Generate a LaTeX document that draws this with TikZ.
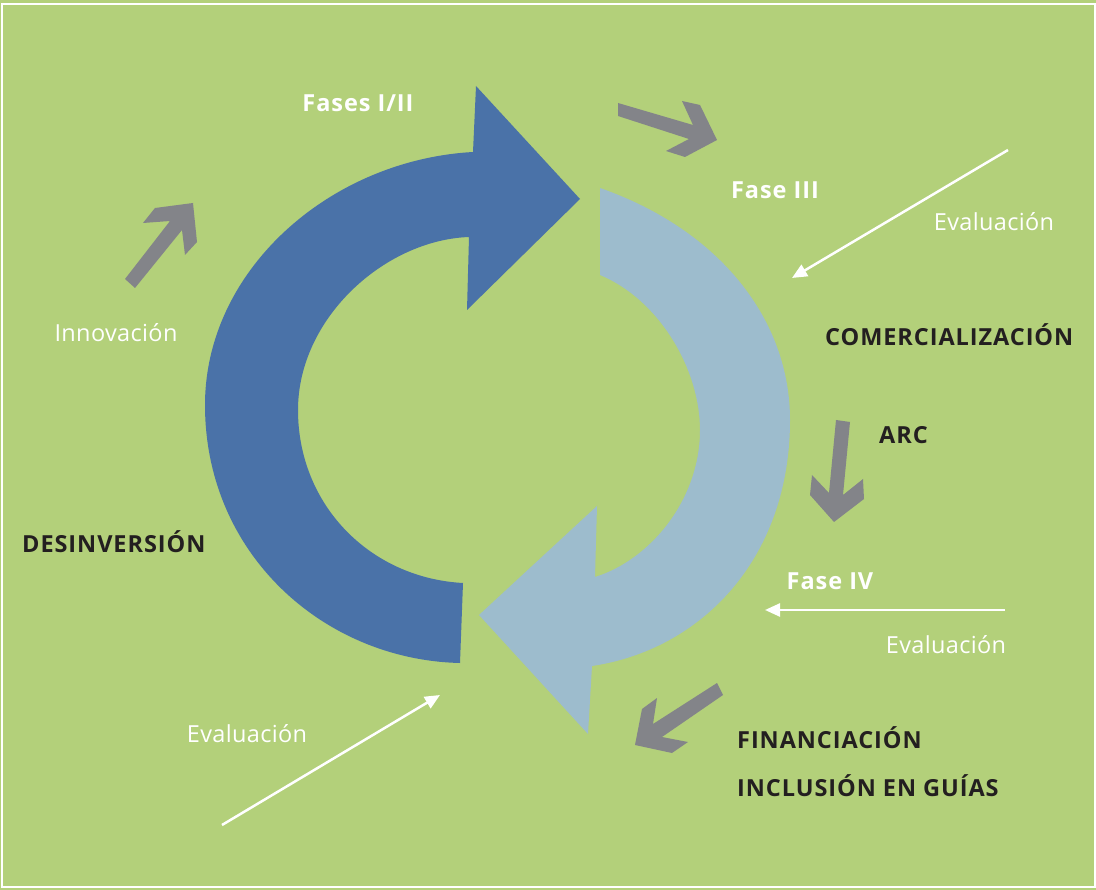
\documentclass[tikz,border=0pt]{standalone}
\usepackage{fontspec}
\setmainfont{Open Sans}
\usetikzlibrary{arrows.meta}
\definecolor{bggreen}{HTML}{B3D07A}
\definecolor{darkblue}{HTML}{4A72A8}
\definecolor{lightblue}{HTML}{9DBCCD}
\definecolor{arrowgray}{HTML}{838489}
\definecolor{darktext}{HTML}{231F20}
\newfontfamily\labelfont[LetterSpace=4]{Open Sans}
\newfontfamily\evalfont[LetterSpace=1.5]{Open Sans}
\tikzset{
  whitelabel/.style={text=white, inner sep=0pt, font=\labelfont\fontsize{23.5}{26}\selectfont\bfseries},
  evallabel/.style={text=white, inner sep=0pt, font=\evalfont\fontsize{23.5}{26}\selectfont},
  darklabel/.style={text=darktext, inner sep=0pt, anchor=west, font=\labelfont\fontsize{23.5}{26}\selectfont\bfseries},
  evalarrow/.style={draw=white, line width=2.5pt, -{Triangle[length=15pt,width=13pt]}},
  grayarrow/.style={fill=arrowgray, draw=none},
}
\begin{document}
\begin{tikzpicture}[x=1pt,y=-1pt]
\useasboundingbox (0,0) rectangle (1096,890);
\fill[bggreen] (0,0) rectangle (1096,890);
\draw[white, line width=2pt] (2,4.3) rectangle (1094.5,887);

% big dark blue arrow
\fill[darkblue] (460,663) .. controls (325,660) and (205,555) .. (205,405)
  .. controls (205,270) and (330,160) .. (473,152)
  -- (476,86) -- (580,199) -- (467,310) -- (469,237)
  .. controls (385,240) and (298,318) .. (298,410)
  .. controls (298,505) and (370,578) .. (463,583) -- cycle;

% big light blue arrow
\fill[lightblue] (600,188) .. controls (720,230) and (790,320) .. (790,420)
  .. controls (790,560) and (700,650) .. (592,666)
  -- (588,734) -- (479,615) -- (597,506) -- (595,577)
  .. controls (650,560) and (700,500) .. (700,430)
  .. controls (700,370) and (660,300) .. (600,275) -- cycle;

% gray arrows
\fill[grayarrow] (618,103) -- (693,125) -- (682,101) -- (700,105) -- (717,140) -- (685,157) -- (666,151) -- (689,139) -- (618,116) -- cycle;
\fill[grayarrow] (125,279) -- (170,221) -- (143,223) -- (155,208) -- (193,203) -- (197,242) -- (185,255) -- (182,230) -- (135,288) -- cycle;
\fill[grayarrow] (836,420) -- (850,422) -- (843,495) -- (863,479) -- (864,499) -- (834,522) -- (810,495) -- (812,475) -- (829,493) -- cycle;
\fill[grayarrow] (717,683) -- (653,724) -- (657,698) -- (642,709) -- (635,745) -- (672,753) -- (688,742) -- (662,737) -- (723,695) -- cycle;

% labels
\node[whitelabel] (f12) at (358,103) {Fases I/II};
\node[whitelabel] (f3) at (775,190) {Fase III};
\node[whitelabel] (f4) at (830,581) {Fase IV};
\node[evallabel] (inn) at (116,333) {Innovación};
\node[evallabel] (ev1) at (994,222) {Evaluación};
\node[evallabel] (ev2) at (946,645) {Evaluación};
\node[evallabel] (ev3) at (247,734) {Evaluación};
\node[darklabel] (com) at (825,335) {COMERCIALIZACIÓN};
\node[darklabel] (arc) at (879,435) {ARC};
\node[darklabel] (fin) at (737,738) {FINANCIACIÓN};
\node[darklabel] (inc) at (737,786) {INCLUSIÓN EN GUÍAS};
\node[darklabel] (des) at (22,542) {DESINVERSIÓN};

% evaluation arrows
\coordinate (e1s) at (1008,150);
\coordinate (e1e) at (792,278);
\coordinate (e2s) at (1005,610);
\coordinate (e2e) at (765,610);
\coordinate (e3s) at (222,825);
\coordinate (e3e) at (440,695);
\draw[evalarrow] (e1s) -- (e1e);
\draw[evalarrow] (e2s) -- (e2e);
\draw[evalarrow] (e3s) -- (e3e);
\end{tikzpicture}
\end{document}
